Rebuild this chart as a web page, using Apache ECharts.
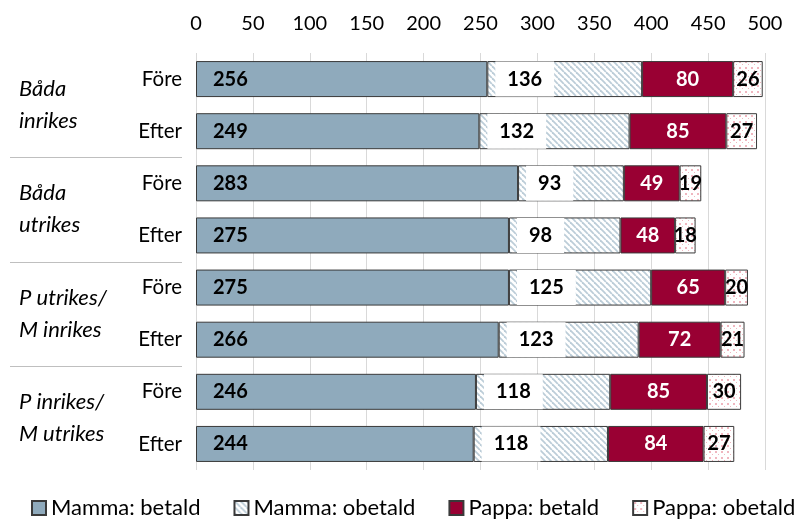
<!DOCTYPE html>
<html><head><meta charset="utf-8">
<script src="https://cdn.jsdelivr.net/npm/echarts@6/dist/echarts.min.js"></script>
<style>html,body{margin:0;padding:0;background:#fff}#c{width:801px;height:520px}</style>
</head><body><div id="c"></div>
<script>
const rows = ['Före','Efter','Före','Efter','Före','Efter','Före','Efter'];
const groups = ['Båda\ninrikes','Båda\nutrikes','P utrikes/\nM inrikes','P inrikes/\nM utrikes'];
const xTicks = [0,50,100,150,200,250,300,350,400,450,500];
const mammaBetald  = [256,249,283,275,275,266,246,244];
const mammaObetald = [136,132,93,98,125,123,118,118];
const pappaBetald  = [80,85,49,48,65,72,85,84];
const pappaObetald = [26,27,19,18,20,21,30,27];

function stripes(){
  const c=document.createElement('canvas');c.width=6;c.height=6;
  const g=c.getContext('2d');g.fillStyle='#fff';g.fillRect(0,0,6,6);
  g.strokeStyle='#bccdd8';g.lineWidth=1.8;
  for(let k=-6;k<=12;k+=6){g.beginPath();g.moveTo(k,0);g.lineTo(k+6,6);g.stroke();}
  return c;
}
function dots(){
  const c=document.createElement('canvas');c.width=6;c.height=6;
  const g=c.getContext('2d');g.fillStyle='#fff';g.fillRect(0,0,6,6);
  g.fillStyle='#f0b6bf';g.fillRect(1,1,2,2);g.fillRect(4,4,1,1);
  return c;
}
const FONT='Lato';
const border={borderColor:'#3a3a3a',borderWidth:1};
const chart=echarts.init(document.getElementById('c'),null,{renderer:'canvas'});
chart.setOption({
  animation:false,
  textStyle:{fontFamily:FONT},
  grid:{left:196,right:36,top:53,bottom:50},
  legend:{bottom:1,left:31,width:770,padding:0,itemGap:33,itemWidth:14,itemHeight:14,icon:'rect',
    textStyle:{fontFamily:FONT,fontSize:22,color:'#000'},
    data:['Mamma: betald','Mamma: obetald','Pappa: betald','Pappa: obetald']},
  xAxis:{type:'value',position:'top',min:xTicks[0],max:xTicks[xTicks.length-1],interval:50,
    axisLine:{show:false},axisTick:{show:false},
    axisLabel:{fontFamily:FONT,fontSize:20,color:'#000',margin:19},
    splitLine:{lineStyle:{color:'#d9d9d9',width:1}}},
  yAxis:[
    {type:'category',data:rows,inverse:true,axisLine:{show:false},axisTick:{show:false},
     axisLabel:{fontFamily:FONT,fontSize:20.5,color:'#000',margin:14}},
    {type:'category',data:groups,inverse:true,position:'left',offset:14,
     axisLine:{show:false},axisTick:{show:false},
     axisLabel:{fontFamily:FONT,fontSize:22,fontStyle:'italic',color:'#000',align:'left',margin:163,lineHeight:32}}
  ],
  series:[
    {name:'Mamma: betald',type:'bar',stack:'s',barWidth:36,data:mammaBetald,
     itemStyle:Object.assign({color:'#8faabc'},border),
     label:{show:true,position:'insideLeft',distance:17,fontFamily:FONT,fontSize:20,fontWeight:'bold',color:'#000'}},
    {name:'Mamma: obetald',type:'bar',stack:'s',barWidth:36,data:mammaObetald,
     itemStyle:Object.assign({color:{image:stripes(),repeat:'repeat'}},border),
     label:{show:true,position:'insideLeft',distance:8,fontFamily:FONT,fontSize:20,fontWeight:'bold',color:'#000',
       backgroundColor:'#fff',padding:[8,12],lineHeight:19}},
    {name:'Pappa: betald',type:'bar',stack:'s',barWidth:36,data:pappaBetald,
     itemStyle:Object.assign({color:'#990033'},border),
     label:{show:true,position:'inside',fontFamily:FONT,fontSize:20,fontWeight:'bold',color:'#fff'}},
    {name:'Pappa: obetald',type:'bar',stack:'s',barWidth:36,data:pappaObetald,
     itemStyle:Object.assign({color:{image:dots(),repeat:'repeat'}},border),
     label:{show:true,position:'inside',fontFamily:FONT,fontSize:20,fontWeight:'bold',color:'#000'}}
  ]
});
// group separator lines between category bands, positioned through the y axis scale
const seps=[];
for(let i=2;i<rows.length;i+=2){
  const a=chart.convertToPixel({yAxisIndex:0},i-1), b=chart.convertToPixel({yAxisIndex:0},i);
  const y=Math.round((a+b)/2)+0.5;
  seps.push({type:'line',shape:{x1:10,y1:y,x2:182,y2:y},style:{stroke:'#bfbfbf',lineWidth:1},silent:true});
}
chart.setOption({graphic:seps});
</script></body></html>
